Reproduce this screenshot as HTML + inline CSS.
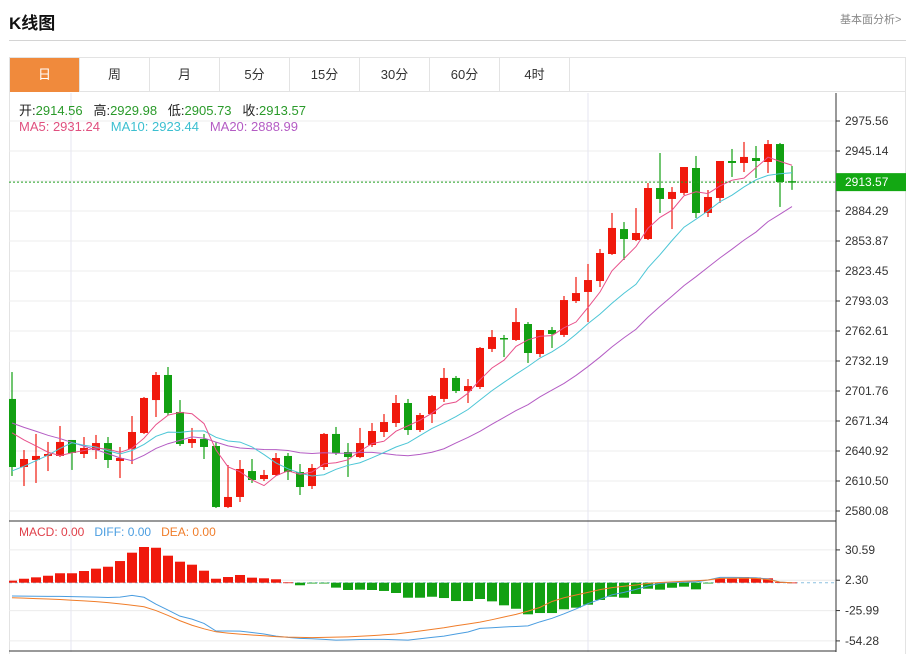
<!DOCTYPE html>
<html><head><meta charset="utf-8">
<style>
body{margin:0;width:916px;height:654px;background:#fff;font-family:"Liberation Sans","Noto Sans CJK SC",sans-serif;position:relative;overflow:hidden}
.t{position:absolute;white-space:nowrap}
#tabs{position:absolute;left:9px;top:57px;height:35px;width:897px;border:1px solid #e3e3e3;box-sizing:border-box;display:flex}
.tab{width:70px;height:34px;line-height:34px;text-align:center;font-size:13px;color:#333;border-right:1px solid #e3e3e3;box-sizing:border-box}
.tab.on{background:#f08a3c;color:#fff}
</style></head><body>
<div class="t" style="left:9px;top:9px;font-size:17px;font-weight:bold;color:#111">K线图</div>
<div class="t" style="left:840px;top:11px;font-size:11px;color:#888">基本面分析&gt;</div>
<div style="position:absolute;left:9px;top:40px;width:897px;height:1px;background:#d4d4d4"></div>
<div id="tabs">
<div class="tab on">日</div>
<div class="tab">周</div>
<div class="tab">月</div>
<div class="tab">5分</div>
<div class="tab">15分</div>
<div class="tab">30分</div>
<div class="tab">60分</div>
<div class="tab">4时</div>
</div>
<div style="position:absolute;left:9px;top:92px;width:897px;height:562px;border-left:1px solid #e3e3e3;border-right:1px solid #e3e3e3;box-sizing:border-box"></div>
<svg id="svg" width="916" height="654" style="position:absolute;left:0;top:0"></svg>
<div class="t" style="left:19px;top:100px;font-size:13px;color:#222">开:<span style="color:#2a9a2a">2914.56</span>&nbsp;&nbsp; 高:<span style="color:#2a9a2a">2929.98</span>&nbsp;&nbsp; 低:<span style="color:#2a9a2a">2905.73</span>&nbsp;&nbsp; 收:<span style="color:#2a9a2a">2913.57</span></div>
<div class="t" style="left:19px;top:119px;font-size:13px"><span style="color:#e0507f">MA5: 2931.24</span>&nbsp;&nbsp; <span style="color:#3cbfd0">MA10: 2923.44</span>&nbsp;&nbsp; <span style="color:#b45cc4">MA20: 2888.99</span></div>
<div class="t" style="left:19px;top:525px;font-size:12px"><span style="color:#e0404a">MACD: 0.00</span>&nbsp;&nbsp; <span style="color:#4a9de0">DIFF: 0.00</span>&nbsp;&nbsp; <span style="color:#f07d2a">DEA: 0.00</span></div>
<script>
const opens=[2693.7,2624.7,2631.8,2635.9,2635.9,2652.1,2637.9,2641.9,2649.0,2630.8,2643.0,2659.2,2692.6,2718.0,2680.5,2649.0,2653.1,2646.0,2584.1,2594.3,2620.6,2612.5,2616.6,2635.9,2619.6,2605.4,2624.7,2658.2,2639.9,2634.8,2647.0,2660.2,2669.3,2689.6,2662.2,2678.4,2693.7,2715.0,2701.8,2705.8,2744.4,2755.5,2753.5,2769.7,2739.3,2763.6,2758.6,2793.0,2802.2,2813.3,2840.7,2866.0,2854.9,2855.9,2907.6,2896.5,2902.6,2927.9,2882.3,2897.5,2935.0,2933.0,2938.0,2934.0,2952.2,2914.56];
const closes=[2624.7,2632.8,2635.9,2637.9,2650.1,2638.9,2644.0,2649.0,2631.8,2633.8,2660.2,2694.7,2718.0,2679.5,2648.0,2653.1,2645.0,2584.1,2594.3,2622.7,2611.5,2616.6,2633.8,2619.6,2604.4,2623.7,2658.2,2638.9,2634.8,2649.0,2661.2,2670.3,2689.6,2662.2,2677.4,2696.7,2715.0,2701.8,2706.8,2745.4,2756.5,2754.5,2771.7,2740.3,2763.6,2759.6,2794.0,2801.1,2814.3,2841.7,2867.1,2855.9,2862.0,2907.6,2896.5,2903.6,2928.9,2882.3,2898.5,2935.0,2933.0,2939.1,2935.0,2952.2,2913.7,2913.57];
const highs=[2721.0,2641.9,2658.2,2650.1,2666.3,2652.1,2655.1,2657.2,2655.1,2645.0,2676.4,2695.7,2721.0,2726.1,2692.6,2664.3,2658.2,2650.1,2626.7,2631.8,2632.8,2621.7,2638.9,2638.9,2627.7,2627.7,2659.2,2665.3,2649.0,2664.3,2669.3,2678.4,2697.7,2693.7,2679.5,2697.7,2725.1,2717.0,2713.9,2746.4,2763.6,2758.6,2785.9,2771.7,2763.6,2766.7,2798.1,2817.4,2830.6,2845.8,2882.3,2873.1,2887.3,2912.7,2943.1,2908.6,2928.9,2940.1,2905.6,2935.0,2947.2,2954.3,2950.2,2956.3,2953.3,2929.98];
const lows=[2615.6,2605.4,2608.5,2620.6,2634.8,2621.7,2633.8,2632.8,2623.7,2613.5,2627.7,2658.2,2675.4,2677.4,2646.0,2644.0,2632.8,2583.1,2583.1,2589.2,2608.5,2610.5,2615.6,2611.5,2596.3,2602.4,2621.7,2636.9,2614.6,2633.8,2645.0,2655.1,2665.3,2657.2,2660.2,2669.3,2690.6,2699.7,2689.6,2703.8,2741.3,2736.2,2752.5,2730.2,2736.2,2745.4,2756.5,2791.0,2771.7,2807.2,2839.7,2834.6,2853.9,2854.9,2882.3,2866.0,2900.5,2877.2,2878.2,2892.4,2918.8,2923.8,2917.8,2922.8,2888.4,2905.73];
const priorCloses=[2722,2715,2720,2716,2719,2717,2721,2714,2718,2718,2584,2580,2583,2581,2582,2669,2666,2670,2667];
const macdHist=[1.9,3.7,5.0,6.5,8.8,8.8,10.9,13.1,14.9,20.2,28.0,33.3,32.6,25.2,19.6,16.8,11.2,3.7,5.3,7.2,4.7,4.1,3.2,0.3,-2.4,-0.3,-0.2,-4.6,-6.8,-6.5,-6.8,-7.7,-9.6,-14.0,-14.0,-13.1,-14.3,-17.1,-17.1,-15.2,-17.4,-21.1,-24.3,-29.5,-28.3,-28.3,-24.8,-23.3,-20.5,-16.1,-13.1,-14.0,-10.5,-5.6,-6.5,-4.7,-3.7,-6.2,-0.3,4.1,3.8,5.3,4.7,4.1,0.5,0.2];
const diffVals=[-12.4,-12.5,-12.6,-12.7,-12.8,-13,-13.2,-13.4,-13.8,-13.5,-11.8,-13.6,-20,-25.5,-31.2,-34,-38,-45.1,-45.1,-45.2,-46.5,-47.8,-49.8,-51,-51.9,-52.3,-52.8,-53.5,-53.3,-53,-52.8,-52.8,-53.2,-53.5,-52.3,-51,-49.8,-47.8,-46,-42.6,-42,-41.3,-40.8,-40.3,-36.5,-33.2,-29,-24.5,-19.5,-15.5,-11.3,-9,-6.2,-3,-0.5,0.2,0.5,0.8,2.5,5,5,4.9,4.6,3.5,0.5,0];
const deaVals=[-14,-14.4,-14.8,-15.2,-15.7,-16.4,-17,-17.7,-18.6,-19.7,-21,-22.4,-26,-30.5,-35.5,-39.7,-43,-45.8,-47,-48,-48.8,-49.5,-50.3,-50.8,-51,-51.2,-51,-50.8,-50.5,-50,-49.4,-48.6,-47.8,-46.5,-45,-43.5,-42,-40.2,-38.5,-36.8,-34.5,-32,-29.5,-26.5,-23,-17.5,-14,-11.5,-9,-6.5,-4.6,-3.3,-2.2,-0.6,0.2,0.8,1.3,1.8,2.5,4,4.2,4.3,4,3,0.5,0];
const priceTicks=[2975.56,2945.14,2914.71,2884.29,2853.87,2823.45,2793.03,2762.61,2732.19,2701.76,2671.34,2640.92,2610.50,2580.08];
const macdTicks=[30.59,2.30,-25.99,-54.28];
const lastPrice=2913.57;

const NS='http://www.w3.org/2000/svg';
const svg=document.getElementById('svg');
const PTOP=2975.56,PBOT=2580.08;
function yP(p){return 121+(PTOP-p)*390/(PTOP-PBOT);}
function xI(i){return 12+12*i;}
function yM(v){return 582.7-v*91/84.87;}
function mk(tag,attrs,parent){const e=document.createElementNS(NS,tag);for(const k in attrs)e.setAttribute(k,attrs[k]);(parent||svg).appendChild(e);return e;}

const gClip=mk('clipPath',{id:'cp'});mk('rect',{x:9,y:93,width:827,height:560},gClip);
// grid
priceTicks.forEach((t,k)=>{const y=yP(t);
 const l=mk('line',{x1:9,x2:836,y1:y,y2:y,stroke:'#ececec','stroke-width':1});
 
 
 mk('line',{x1:836,x2:840,y1:y,y2:y,stroke:'#333'});
 if(Math.abs(t-lastPrice)>8){const tx=mk('text',{x:845,y:y+4,'font-size':12,fill:'#333','font-family':'Liberation Sans, sans-serif'});tx.textContent=t.toFixed(2);
 
 }
});
macdTicks.forEach(t=>{const y=yM(t);
 const l=mk('line',{x1:9,x2:836,y1:y,y2:y,stroke:'#ececec'});
 
 
 mk('line',{x1:836,x2:840,y1:y,y2:y,stroke:'#333'});
 const tx=mk('text',{x:845,y:y+4,'font-size':12,fill:'#333','font-family':'Liberation Sans, sans-serif'});tx.textContent=t.toFixed(2);
 
 
});
[71,588].forEach(x=>{mk('line',{x1:x,x2:x,y1:93,y2:652,stroke:'#e6e6f0'});});
mk('line',{x1:836,x2:836,y1:93,y2:652,stroke:'#333'});
mk('line',{x1:9,x2:836,y1:521,y2:521,stroke:'#333'});
mk('line',{x1:9,x2:836,y1:651,y2:651,stroke:'#333'});
const zl=mk('line',{x1:9,x2:836,y1:yM(0),y2:yM(0),stroke:'#8cc0e0','stroke-dasharray':'3,3'});



const G=mk('g',{'clip-path':'url(#cp)'});
// candles
const RED='#f0190c',GRN='#12a012';
closes.forEach((c,i)=>{const o=opens[i],up=c>=o,col=up?RED:GRN,x=xI(i);
 const w=mk('line',{x1:x,x2:x,y1:yP(highs[i]),y2:yP(lows[i]),stroke:col,'stroke-width':1.2},G);
 
 
 const t=yP(Math.max(o,c)),b=yP(Math.min(o,c));
 const r=mk('rect',{x:x-4,y:t,width:8,height:Math.max(1.5,b-t),fill:col},G);
 
 
});
// MAs
const all=priorCloses.concat(closes);
function ma(n){return closes.map((c,i)=>{let s=0;for(let k=0;k<n;k++)s+=all[i+priorCloses.length-k];return s/n;});}
[[20,'#b45cc4','ma20-line'],[10,'#4cc6d6','ma10-line'],[5,'#e8508a','ma5-line']].forEach(([n,col,nm])=>{
 const v=ma(n);const p=mk('polyline',{points:v.map((m,i)=>xI(i)+','+yP(m)).join(' '),fill:'none',stroke:col,'stroke-width':1},G);
 
 
});
// last price line
const lp=mk('line',{x1:9,x2:836,y1:yP(lastPrice),y2:yP(lastPrice),stroke:'#22a022','stroke-dasharray':'2,2'});


const lb=mk('rect',{x:836,y:yP(lastPrice)-9,width:70,height:18,fill:'#13a813'});


const lt=mk('text',{x:845,y:yP(lastPrice)+4,'font-size':12,fill:'#fff','font-family':'Liberation Sans, sans-serif'});lt.textContent=lastPrice.toFixed(2);


// MACD
macdHist.forEach((v,i)=>{const x=xI(i),y0=yM(0),y1=yM(v);
 const r=mk('rect',{x:x-5,y:Math.min(y0,y1),width:10,height:Math.max(0.8,Math.abs(y1-y0)),fill:v>=0?RED:GRN},G);
 
 
});
[[diffVals,'#4a9de0','diff-line'],[deaVals,'#f07d2a','dea-line']].forEach(([arr,col,nm])=>{
 const p=mk('polyline',{points:arr.map((v,i)=>xI(i)+','+yM(v)).join(' '),fill:'none',stroke:col,'stroke-width':1},G);
 
 
});
</script>
</body></html>
